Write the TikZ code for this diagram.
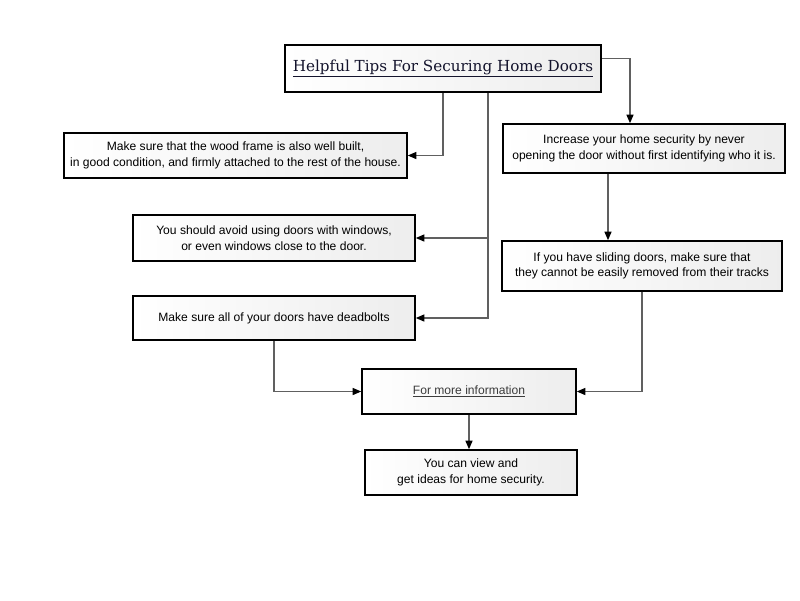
\documentclass[tikz,border=0pt]{standalone}
\usepackage{xcolor}
\usepackage{fontspec}
\usepackage{tikz}
\usetikzlibrary{shapes,arrows,positioning,calc,arrows.meta}
\newfontfamily\boxfont{Liberation Sans}
\newfontfamily\headfont{DejaVu Serif}
\definecolor{headtext}{RGB}{20,20,45}
\definecolor{linkgray}{RGB}{60,60,60}

\tikzset{
    tipbox/.style={draw=black, line width=1.2pt, left color=white, right color=gray!14,
        inner sep=0pt, align=center, font=\boxfont\fontsize{8.6}{11}\selectfont},
    headbox/.style={tipbox, line width=1.6pt, font=\headfont\fontsize{10.8}{13}\selectfont, text=headtext},
    link/.style={draw=gray!75!black, line width=0.8pt, -{Triangle[length=6pt,width=5pt,color=black]}}
}

\begin{document}
\begin{tikzpicture}
    \useasboundingbox (0,0) rectangle (20,-15);

    % Title
    \node [headbox, minimum width=7.9cm, minimum height=1.175cm] (title) at (11.075,-1.7125)
        {\underline{Helpful Tips For Securing Home Doors}};

    % Left column
    \node [tipbox, minimum width=8.575cm, minimum height=1.125cm] (wood) at (5.8875,-3.8875)
        {Make sure that the wood frame is also well built,\\in good condition, and firmly attached to the rest of the house.};
    \node [tipbox, minimum width=7.05cm, minimum height=1.15cm] (avoid) at (6.85,-5.95)
        {You should avoid using doors with windows,\\or even windows close to the door.};
    \node [tipbox, minimum width=7.05cm, minimum height=1.1cm] (deadbolt) at (6.85,-7.95)
        {Make sure all of your doors have deadbolts};

    % Right column
    \node [tipbox, minimum width=7.05cm, minimum height=1.225cm] (identify) at (16.1,-3.7125)
        {Increase your home security by never\\opening the door without first identifying who it is.};
    \node [tipbox, minimum width=7.0cm, minimum height=1.25cm] (sliding) at (16.05,-6.65)
        {If you have sliding doors, make sure that\\they cannot be easily removed from their tracks};

    % Bottom
    \node [tipbox, minimum width=5.35cm, minimum height=1.125cm] (moreinfo) at (11.725,-9.7875)
        {\textcolor{linkgray}{\underline{For more information}}};
    \node [tipbox, minimum width=5.3cm, minimum height=1.125cm] (view) at (11.775,-11.8125)
        {You can view and\\get ideas for home security.};

    % Connectors
    \coordinate (trunk) at ($(title.south)+(1.125,0)$);
    \draw [link] (title.south) |- (wood.east);
    \draw [link] (trunk) |- (avoid.east);
    \draw [link] (trunk) |- (deadbolt.east);
    \draw [link] ([yshift=0.26cm]title.east) -| ([xshift=-0.35cm]identify.north);
    \draw [link] ([xshift=-0.9cm]identify.south) -- ([xshift=-0.9cm]identify.south |- sliding.north);
    \draw [link] (sliding.south) |- (moreinfo.east);
    \draw [link] (deadbolt.south) |- (moreinfo.west);
    \draw [link] (moreinfo.south) -- (moreinfo.south |- view.north);
\end{tikzpicture}
\end{document}
